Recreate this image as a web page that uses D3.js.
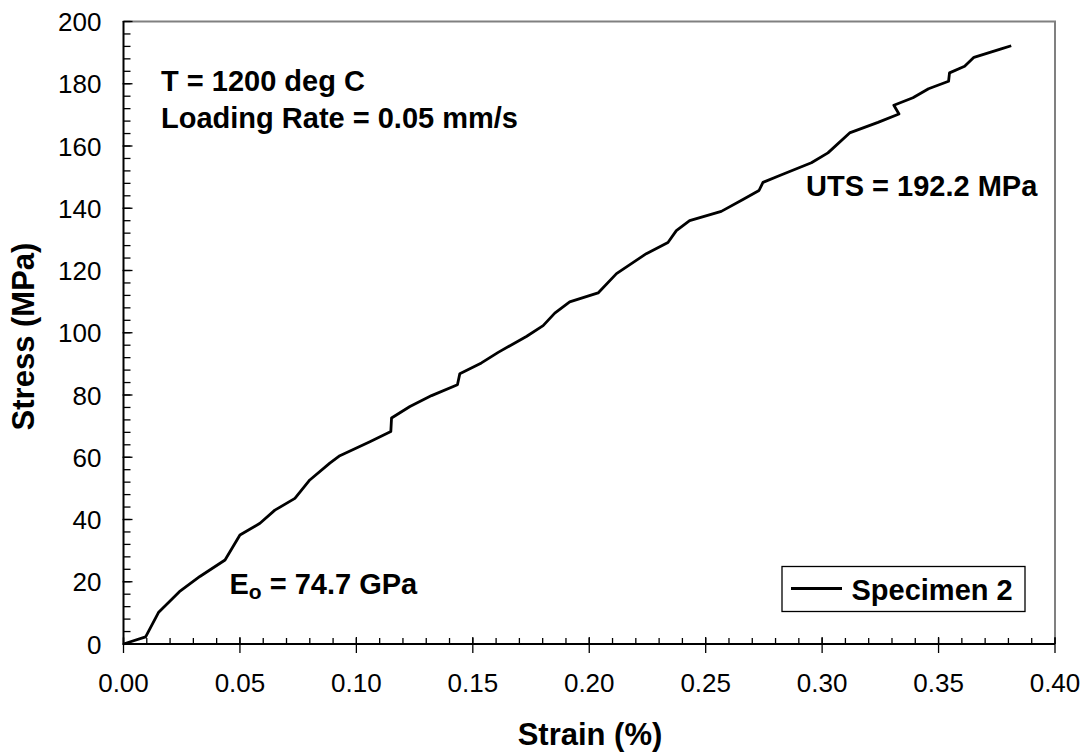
<!DOCTYPE html>
<html><head><meta charset="utf-8">
<script src="https://cdn.jsdelivr.net/npm/d3@7"></script>
<style>body{margin:0;background:#fff}svg{display:block;font-family:"Liberation Sans",Arial,sans-serif}</style>
</head><body><svg id="c" width="1088" height="755"></svg>
<script>
const strain = [0, 0.0095, 0.0150, 0.0240, 0.0328, 0.0436, 0.0500, 0.0586, 0.0650, 0.0736, 0.0800, 0.0886, 0.0929, 0.1058, 0.1148, 0.1151, 0.1230, 0.1323, 0.1434, 0.1444, 0.1537, 0.1609, 0.1730, 0.1802, 0.1852, 0.1916, 0.2038, 0.2117, 0.2245, 0.2338, 0.2374, 0.2431, 0.2567, 0.2660, 0.2729, 0.2746, 0.2818, 0.2954, 0.3025, 0.3118, 0.3240, 0.3330, 0.3308, 0.3390, 0.3457, 0.3543, 0.3547, 0.3612, 0.3652, 0.3769, 0.3812];
const stress = [0, 2.3, 10.1, 16.8, 21.7, 27.0, 35.0, 38.8, 43.0, 46.8, 52.7, 58.1, 60.5, 65.0, 68.3, 72.6, 76.3, 79.8, 83.3, 86.8, 90.3, 93.7, 98.8, 102.3, 106.3, 109.9, 112.8, 119.0, 125.4, 129.0, 132.8, 136.0, 139.0, 142.8, 145.7, 148.3, 150.5, 154.6, 157.8, 164.2, 167.6, 170.3, 173.1, 175.5, 178.4, 180.8, 183.5, 185.6, 188.5, 191.2, 192.2];
const xTicks = [0, 0.05, 0.10, 0.15, 0.20, 0.25, 0.30, 0.35, 0.40];
const yTicks = [0, 20, 40, 60, 80, 100, 120, 140, 160, 180, 200];
const seriesName = "Specimen 2";

const L = 123.5, R = 1055, T = 21.5, B = 644;
const svg = d3.select("#c");
const x = d3.scaleLinear().domain([0, 0.40]).range([L, R]);
const y = d3.scaleLinear().domain([0, 200]).range([B, T]);

svg.append("path").attr("d", `M${L},${T}H${R}V${B}`).attr("fill","none").attr("stroke","#808080").attr("stroke-width",2);

const xMinor = d3.range(0, 0.4001, 0.01);
const gx = svg.append("g");
gx.selectAll("line.mi").data(xMinor).join("line")
  .attr("x1", d=>x(d)).attr("x2", d=>x(d)).attr("y1", B).attr("y2", B-6)
  .attr("stroke","#000").attr("stroke-width",1.3);
gx.selectAll("line.ma").data(xTicks).join("line")
  .attr("x1", d=>x(d)).attr("x2", d=>x(d)).attr("y1", B-7).attr("y2", B+9)
  .attr("stroke","#000").attr("stroke-width",1.3);
gx.selectAll("text").data(xTicks).join("text")
  .attr("x", d=>x(d)).attr("y", 692).attr("text-anchor","middle")
  .attr("font-size",26).text(d=>d3.format(".2f")(d));

const yMinor = d3.range(0, 200.01, 4);
const gy = svg.append("g");
gy.selectAll("line.mi").data(yMinor).join("line")
  .attr("x1", L).attr("x2", L+7).attr("y1", d=>y(d)).attr("y2", d=>y(d))
  .attr("stroke","#000").attr("stroke-width",1.3);
gy.selectAll("line.ma").data(yTicks).join("line")
  .attr("x1", L-1).attr("x2", L+9).attr("y1", d=>y(d)).attr("y2", d=>y(d))
  .attr("stroke","#000").attr("stroke-width",1.3);
gy.selectAll("text").data(yTicks).join("text")
  .attr("x", 101.5).attr("y", d=>y(d)+9.5).attr("text-anchor","end")
  .attr("font-size",26).text(d=>d);

svg.append("path").attr("d", `M${L},${T}V${B}H${R}`).attr("fill","none").attr("stroke","#000").attr("stroke-width",2);

const line = d3.line().x((d,i)=>x(strain[i])).y((d,i)=>y(stress[i]));
svg.append("path").datum(stress).attr("d", line).attr("fill","none")
  .attr("stroke","#000").attr("stroke-width",2.8).attr("stroke-linejoin","round");

svg.append("text").attr("x", 590).attr("y", 745).attr("text-anchor","middle")
  .attr("font-size",31).attr("font-weight","bold").text("Strain (%)");
svg.append("text").attr("transform","translate(33.5,336.5) rotate(-90)").attr("text-anchor","middle")
  .attr("font-size",31).attr("font-weight","bold").text("Stress (MPa)");

const ann = svg.append("g").attr("font-size",29).attr("font-weight","bold");
ann.append("text").attr("x",161).attr("y",90.5).text("T = 1200 deg C");
ann.append("text").attr("x",161).attr("y",128).text("Loading Rate = 0.05 mm/s");
ann.append("text").attr("x",806).attr("y",195.5).text("UTS = 192.2 MPa");
const eo = ann.append("text").attr("x",229.5).attr("y",593.5);
eo.append("tspan").text("E");
eo.append("tspan").attr("font-size",21).attr("dy",5).text("o");
eo.append("tspan").attr("dy",-5).text(" = 74.7 GPa");

svg.append("rect").attr("x",782).attr("y",566.5).attr("width",243).attr("height",45)
  .attr("fill","#fff").attr("stroke","#000").attr("stroke-width",1.3);
svg.append("line").attr("x1",791).attr("x2",842).attr("y1",588.5).attr("y2",588.5)
  .attr("stroke","#000").attr("stroke-width",2.8);
svg.append("text").attr("x",851.5).attr("y",599.5).attr("font-size",29).attr("font-weight","bold").text(seriesName);
</script></body></html>
